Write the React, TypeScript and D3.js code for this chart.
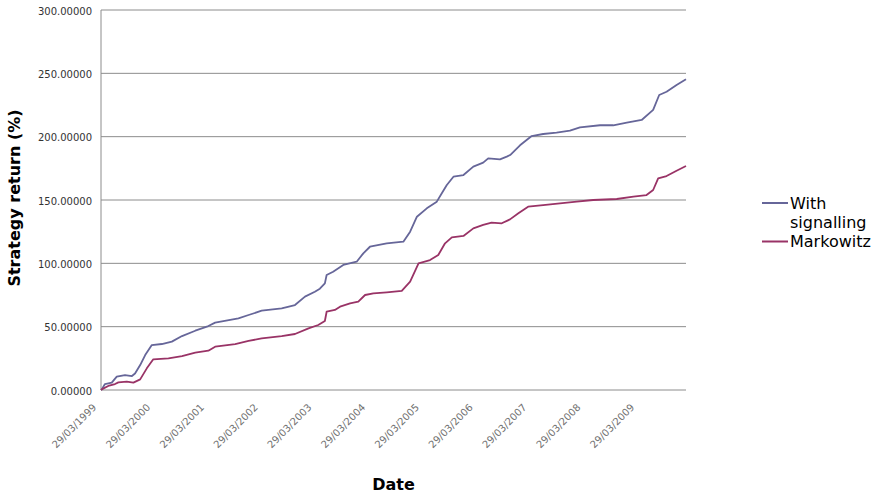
import React from "react";
import * as d3 from "d3";

const tickLabels = [
  "29/03/1999", "29/03/2000", "29/03/2001", "29/03/2002", "29/03/2003", "29/03/2004",
  "29/03/2005", "29/03/2006", "29/03/2007", "29/03/2008", "29/03/2009",
];
const yTicks = [0, 50, 100, 150, 200, 250, 300];
const startDate = "1999-03-29";
const endDate = "2010-02-11";

const signallingDates = [
  "1999-03-29", "1999-04-03", "1999-04-25", "1999-06-10", "1999-07-14", "1999-09-08", "1999-10-25",
  "1999-11-15", "1999-12-20", "2000-01-23", "2000-03-08", "2000-05-15", "2000-07-22", "2000-09-29",
  "2000-12-28", "2001-03-27", "2001-05-12", "2001-10-17", "2001-12-25", "2002-03-24", "2002-08-07",
  "2002-11-05", "2003-01-12", "2003-03-20", "2003-04-23", "2003-05-27", "2003-06-08", "2003-07-22",
  "2003-09-29", "2003-12-29", "2004-02-12", "2004-03-28", "2004-07-20", "2004-11-10", "2004-12-26",
  "2005-02-10", "2005-04-18", "2005-06-25", "2005-07-29", "2005-09-01", "2005-10-16", "2005-12-23",
  "2006-02-28", "2006-05-06", "2006-06-09", "2006-08-28", "2006-10-13", "2006-11-05", "2007-01-11",
  "2007-03-31", "2007-06-17", "2007-09-16", "2007-12-16", "2008-02-22", "2008-07-07", "2008-10-05",
  "2009-01-05", "2009-04-16", "2009-07-03", "2009-08-13", "2009-10-02", "2009-12-09", "2010-02-11",
];
const signallingValues = [
  0, 0.5, 4.7, 5.8, 10.5, 11.8, 11,
  13, 19.7, 27.6, 35.5, 36.3, 38.2, 42.6,
  46.8, 50.5, 53.2, 56.6, 59.2, 62.6, 64.5,
  67.1, 73.7, 77.6, 80, 84.2, 90.8, 93.4,
  98.7, 101.3, 107.9, 113.1, 115.8, 117.1, 125,
  136.8, 143.4, 148.7, 155.3, 161.8, 168.4, 169.7,
  176.3, 179.5, 182.9, 182.1, 184.2, 185.5, 193.2,
  200.5, 202.1, 203.2, 204.7, 207.4, 209, 209,
  211, 213.2, 221.1, 232.9, 235.5, 240.8, 245.3,
];

const markowitzDates = [
  "1999-03-29", "1999-04-03", "1999-05-17", "1999-07-02", "1999-07-25", "1999-09-20", "1999-11-04",
  "1999-12-20", "2000-02-03", "2000-03-18", "2000-06-29", "2000-09-29", "2000-12-28", "2001-03-27",
  "2001-05-12", "2001-09-25", "2001-12-25", "2002-03-24", "2002-08-07", "2002-11-05", "2003-02-05",
  "2003-04-12", "2003-05-27", "2003-06-08", "2003-08-03", "2003-09-07", "2003-11-14", "2004-01-09",
  "2004-02-24", "2004-04-20", "2004-07-20", "2004-10-30", "2004-12-26", "2005-02-21", "2005-05-10",
  "2005-07-05", "2005-08-20", "2005-10-05", "2005-12-23", "2006-02-28", "2006-05-06", "2006-07-02",
  "2006-09-09", "2006-11-04", "2006-12-31", "2007-03-07", "2007-06-17", "2007-10-09", "2008-01-31",
  "2008-05-22", "2008-10-29", "2009-02-19", "2009-05-19", "2009-07-03", "2009-08-06", "2009-10-02",
  "2009-12-09", "2010-02-11",
];
const markowitzValues = [
  0, 0.5, 3.2, 4.7, 6, 6.6, 5.8,
  8.4, 17.1, 24.2, 25, 26.8, 29.5, 31,
  34.2, 36.3, 38.7, 40.8, 42.6, 44.2, 48.7,
  51.3, 54.5, 61.8, 63.2, 65.8, 68.4, 69.7,
  75, 76.3, 77.1, 78.2, 85.5, 100, 102.6,
  106.6, 115.8, 120.5, 121.6, 127.6, 130.3, 132.1,
  131.6, 134.7, 139.5, 144.7, 146, 147.4, 148.7,
  150, 150.8, 152.6, 153.9, 157.9, 167.1, 168.9,
  173.1, 176.8,
];

const series = [
  { name: "With signalling", color: "#666699", dates: signallingDates, values: signallingValues },
  { name: "Markowitz", color: "#993366", dates: markowitzDates, values: markowitzValues },
];

const W = 883;
const H = 493;
const M = { left: 101, right: 686, top: 10, bottom: 390 };

export default function App() {
  const parse = d3.timeParse("%Y-%m-%d");
  const parseTick = d3.timeParse("%d/%m/%Y");
  const x = d3.scaleTime().domain([parse(startDate)!, parse(endDate)!]).range([M.left, M.right]);
  const y = d3.scaleLinear().domain([0, 300]).range([M.bottom, M.top]);
  const fmt = d3.format(".5f");
  const font = "'DejaVu Sans', Verdana, sans-serif";

  return (
    <div style={{ position: "absolute", left: 0, top: 0 }}>
      <svg width={W} height={H} style={{ display: "block", background: "#fff" }}>
        {yTicks.map((t) => (
          <g key={t}>
            <line x1={M.left} x2={M.right} y1={y(t)} y2={y(t)} stroke="#8c8c8c" strokeWidth={1} />
            <text x={92} y={y(t) + 4.5} textAnchor="end" fontFamily={font} fontSize={10} fill="#333">
              {fmt(t)}
            </text>
          </g>
        ))}
        <line x1={M.left} x2={M.left} y1={M.top} y2={M.bottom} stroke="#8c8c8c" strokeWidth={1} />
        {tickLabels.map((t) => {
          const tx = x(parseTick(t)!);
          return (
            <text
              key={t}
              transform={`translate(${tx - 4},${M.bottom + 18}) rotate(-45)`}
              textAnchor="end"
              fontFamily={font}
              fontSize={10}
              fill="#707070"
            >
              {t}
            </text>
          );
        })}
        {series.map((s) => {
          const pts = s.dates.map((d, i) => [x(parse(d)!), y(s.values[i])] as [number, number]);
          const path = d3.line()(pts) || "";
          return <path key={s.name} d={path} fill="none" stroke={s.color} strokeWidth={1.8} strokeLinejoin="round" />;
        })}
        <text x={(M.left + M.right) / 2} y={490} textAnchor="middle" fontFamily={font} fontWeight="bold" fontSize={16} fill="#000">
          Date
        </text>
        <text
          transform={`translate(20,${(M.top + M.bottom) / 2 - 2}) rotate(-90)`}
          textAnchor="middle"
          fontFamily={font}
          fontWeight="bold"
          fontSize={16}
          fill="#000"
        >
          Strategy return (%)
        </text>
        <g fontFamily={font} fontSize={16} fill="#000">
          <line x1={762} x2={788} y1={203} y2={203} stroke={series[0].color} strokeWidth={2} />
          <text x={790} y={209}>With</text>
          <text x={790} y={228}>signalling</text>
          <line x1={762} x2={788} y1={241.5} y2={241.5} stroke={series[1].color} strokeWidth={2} />
          <text x={790} y={247}>Markowitz</text>
        </g>
      </svg>
    </div>
  );
}
